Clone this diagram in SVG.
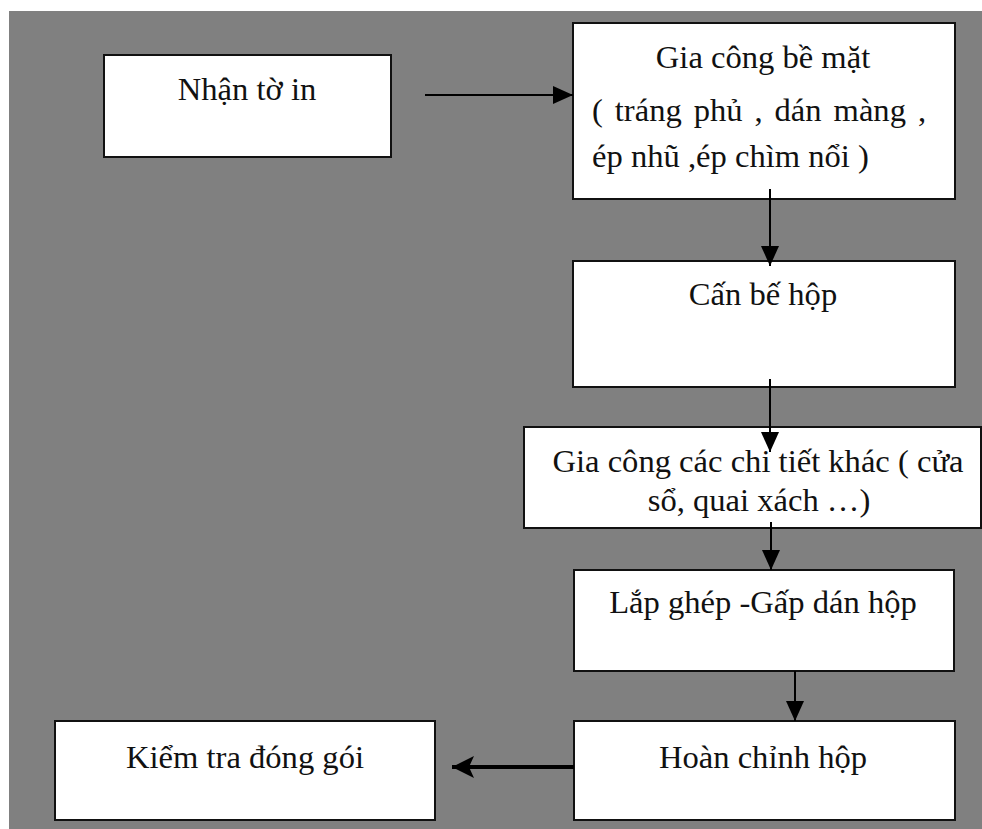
<svg xmlns="http://www.w3.org/2000/svg" width="982" height="829" viewBox="0 0 982 829">
<style>
.box{fill:#fff;stroke:#111;stroke-width:2}
.t{font-family:"Liberation Serif","Times New Roman",Tinos,serif;font-size:32.6px;fill:#111}
.c{text-anchor:middle}
.ln{stroke:#000;stroke-width:2;fill:none}
</style>
<defs>
<marker id="ah" viewBox="0 0 20 18" refX="20" refY="9" markerWidth="20" markerHeight="18" markerUnits="userSpaceOnUse" orient="auto">
<path d="M0,0 L20,9 L0,18 Z" fill="#000"/>
</marker>
<marker id="ahb" viewBox="0 0 22 22" refX="22" refY="11" markerWidth="22" markerHeight="22" markerUnits="userSpaceOnUse" orient="auto">
<path d="M0,0 L22,11 L0,22 L5,11 Z" fill="#000"/>
</marker>
</defs>
<rect x="0" y="0" width="982" height="829" fill="#fff"/>
<rect x="9" y="11" width="973" height="818" fill="#808080"/>

<g id="node-nhan-to-in">
<rect class="box" x="104" y="55" width="287" height="102"/>
<text class="t c" x="247" y="100">Nhận tờ in</text>
</g>

<g id="node-gia-cong-be-mat">
<rect class="box" x="573" y="23" width="382" height="176"/>
<text class="t c" x="763" y="68">Gia công bề mặt</text>
<text class="t" x="592" y="121" style="word-spacing:3.8px">( tráng phủ , dán màng ,</text>
<text class="t" x="592" y="167">ép nhũ ,ép chìm nổi )</text>
</g>

<g id="node-can-be-hop">
<rect class="box" x="573" y="261" width="382" height="126"/>
<text class="t c" x="763" y="305">Cấn bế hộp</text>
</g>

<g id="node-gia-cong-chi-tiet">
<rect class="box" x="524" y="427" width="457" height="101"/>
<text class="t c" x="758" y="472">Gia công các chi tiết khác ( cửa</text>
<text class="t c" x="759" y="511">sổ, quai xách …)</text>
</g>

<g id="node-lap-ghep">
<rect class="box" x="574" y="570" width="380" height="101"/>
<text class="t c" x="763" y="613">Lắp ghép -Gấp dán hộp</text>
</g>

<g id="node-hoan-chinh">
<rect class="box" x="574" y="721" width="381" height="99"/>
<text class="t c" x="763" y="768">Hoàn chỉnh hộp</text>
</g>

<g id="node-kiem-tra">
<rect class="box" x="55" y="721" width="380" height="99"/>
<text class="t c" x="245" y="768">Kiểm tra đóng gói</text>
</g>

<g id="connectors">
<line class="ln" x1="425" y1="95" x2="573" y2="95" marker-end="url(#ah)"/>
<line class="ln" x1="770" y1="189" x2="770" y2="266" marker-end="url(#ah)"/>
<line class="ln" x1="770" y1="379" x2="770" y2="452" marker-end="url(#ah)"/>
<line class="ln" x1="771" y1="522" x2="771" y2="570" marker-end="url(#ah)"/>
<line class="ln" x1="795" y1="671" x2="795" y2="721" marker-end="url(#ah)"/>
<line x1="574" y1="767" x2="452" y2="767" stroke="#000" stroke-width="4" marker-end="url(#ahb)"/>
</g>
</svg>
